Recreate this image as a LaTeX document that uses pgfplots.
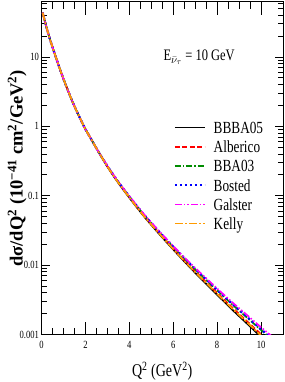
\documentclass[border=0pt]{standalone}
\usepackage{fontspec}
\setmainfont{Liberation Serif}[FakeStretch=0.78]
\newfontfamily\labelfont{Liberation Serif}
\usepackage{pgfplots}
\pgfplotsset{compat=1.18}
\definecolor{cred}{RGB}{255,0,0}
\definecolor{cmag}{RGB}{255,0,255}
\definecolor{cblue}{RGB}{0,0,255}
\definecolor{cgreen}{RGB}{0,140,0}
\definecolor{corange}{RGB}{255,155,0}
\pgfplotsset{
  sBBBA/.style={color=black, line width=1.7pt},
  sAlb/.style={color=cred, line width=1.7pt, dash pattern=on 5pt off 2.5pt},
  sBBA/.style={color=cgreen, line width=1.7pt, dash pattern=on 6pt off 2pt on 1.5pt off 2pt},
  sBos/.style={color=cblue, line width=2.2pt, dash pattern=on 2pt off 3pt},
  sGal/.style={color=cmag, line width=1.7pt, dash pattern=on 7pt off 2pt on 1.5pt off 2pt on 1.5pt off 2pt},
  sKel/.style={color=corange, line width=1.7pt, dash pattern=on 8pt off 2pt on 2pt off 2pt},
}
\begin{document}
\begin{tikzpicture}
\begin{axis}[
  name=ax,
  scale only axis, width=241.5pt, height=332.5pt,
  xmin=0, xmax=11, ymode=log, ymin=0.001, ymax=62,
  xtick={0,2,4,6,8,10}, minor x tick num=3,
  ytick={0.001,0.01,0.1,1,10}, yticklabels={0.001,0.01,0.1,1,10},
  minor ytick={0.002,0.003,0.004,0.005,0.006,0.007,0.008,0.009,0.02,0.03,0.04,0.05,0.06,0.07,0.08,0.09,0.2,0.3,0.4,0.5,0.6,0.7,0.8,0.9,2,3,4,5,6,7,8,9,20,30,40,50,60},
  tick align=inside, tick pos=both,
  xtick style={/pgfplots/major tick length=13pt,/pgfplots/minor tick length=7pt, line width=0.9pt, black},
  ytick style={/pgfplots/major tick length=8pt,/pgfplots/minor tick length=5pt, line width=0.9pt, black},
  axis line style={line width=1pt},
  /pgf/number format/assume math mode=true,
  tick label style={font=\fontsize{11}{12}\selectfont},
  xticklabel style={yshift=-3pt},
  yticklabel style={xshift=1pt},
  xlabel={Q\textsuperscript{2} (GeV\textsuperscript{2})},
  xlabel style={font=\fontsize{18}{20}\selectfont, at={(axis description cs:0.5,0)}, anchor=north, yshift=-24pt},
  ylabel={\textbf{dσ/dQ\textsuperscript{2} (10\textsuperscript{−41} cm\textsuperscript{2}/GeV\textsuperscript{2})}},
  ylabel style={font=\labelfont\fontsize{18.5}{20}\selectfont, at={(axis description cs:-0.101,0.5)}, anchor=center, rotate=0},
  legend style={draw=none, fill=none, at={(axis description cs:0.548,0.641)}, anchor=north west,
    font=\fontsize{17}{18}\selectfont, row sep=7.2pt, inner sep=0pt,
    nodes={inner sep=0pt, text height=12pt, text depth=0pt}},
  legend cell align=left,
  legend image code/.code={\draw[line width=1.7pt,#1] (0pt,0pt) -- (30pt,0pt);},
  every axis legend/.append style={/tikz/column sep=8pt},
]
\addlegendimage{sBBBA}\addlegendentry{BBBA05}
\addlegendimage{sAlb}\addlegendentry{Alberico}
\addlegendimage{sBBA}\addlegendentry{BBA03}
\addlegendimage{sBos}\addlegendentry{Bosted}
\addlegendimage{sGal}\addlegendentry{Galster}
\addlegendimage{sKel}\addlegendentry{Kelly}
\addplot[sBBBA, smooth, forget plot] coordinates {
(0.05,43.65)(0.2,28.84)(0.4,17.38)(0.65,10.0)(0.9,5.888)(1.2,3.311)(1.5,1.950)(1.95,0.977)(2.2,0.708)(2.6,0.427)(3.0,0.263)(3.4,0.170)(3.72,0.123)(4.2,0.0776)(4.7,0.0490)(5.0,0.0380)(5.5,0.0251)(6.0,0.0168)(6.5,0.01135)(7.0,0.00776)(7.6,0.00501)(8.2,0.00324)(8.8,0.00211)(9.4,0.00140)(10.0,0.000923)};
\addplot[sAlb, smooth, forget plot] coordinates {
(0.05,43.65)(0.2,28.84)(0.4,17.38)(0.65,10.0)(0.9,5.888)(1.2,3.311)(1.5,1.950)(1.95,0.977)(2.2,0.708)(2.6,0.427)(3.0,0.2655)(3.4,0.1718)(3.72,0.1247)(4.2,0.0789)(4.7,0.0500)(5.0,0.0389)(5.5,0.0258)(6.0,0.01734)(6.5,0.0118)(7.0,0.00813)(7.6,0.00528)(8.2,0.00344)(8.8,0.00227)(9.4,0.00151)(10.0,0.00101)(10.6,0.000684)};
\addplot[sBBA, smooth, forget plot] coordinates {
(0.05,43.65)(0.2,28.84)(0.4,17.38)(0.65,10.0)(0.9,5.888)(1.2,3.311)(1.5,1.950)(1.95,0.977)(2.2,0.708)(2.6,0.427)(3.0,0.2685)(3.4,0.1746)(3.72,0.1271)(4.2,0.0809)(4.7,0.0515)(5.0,0.0403)(5.5,0.0269)(6.0,0.01824)(6.5,0.0125)(7.0,0.00869)(7.6,0.00573)(8.2,0.00378)(8.8,0.00252)(9.4,0.00171)(10.0,0.00116)(10.6,0.000798)};
\addplot[sBos, smooth, forget plot] coordinates {
(0.05,43.65)(0.2,28.84)(0.4,17.38)(0.65,10.0)(0.9,5.888)(1.2,3.311)(1.5,1.950)(1.95,0.977)(2.2,0.708)(2.6,0.427)(3.0,0.2692)(3.4,0.1750)(3.72,0.1274)(4.2,0.0811)(4.7,0.0518)(5.0,0.0405)(5.5,0.0271)(6.0,0.0184)(6.5,0.01262)(7.0,0.00879)(7.6,0.00581)(8.2,0.00384)(8.8,0.00257)(9.4,0.00175)(10.0,0.00119)(10.6,0.00082)};
\addplot[sGal, smooth, forget plot] coordinates {
(0.05,43.65)(0.2,28.84)(0.4,17.38)(0.65,10.0)(0.9,5.888)(1.2,3.311)(1.5,1.950)(1.95,0.977)(2.2,0.708)(2.6,0.427)(3.0,0.271)(3.4,0.1762)(3.72,0.1285)(4.2,0.0822)(4.7,0.0526)(5.0,0.0412)(5.5,0.02767)(6.0,0.01884)(6.5,0.0130)(7.0,0.00910)(7.6,0.00604)(8.2,0.00402)(8.8,0.00271)(9.4,0.00186)(10.0,0.00127)(10.6,0.000885)};
\addplot[sKel, smooth, forget plot] coordinates {
(0.05,43.65)(0.2,28.84)(0.4,17.38)(0.65,10.0)(0.9,5.888)(1.2,3.311)(1.5,1.950)(1.95,0.977)(2.2,0.708)(2.6,0.427)(3.0,0.2642)(3.4,0.1706)(3.72,0.1239)(4.2,0.0783)(4.7,0.0494)(5.0,0.0385)(5.5,0.02547)(6.0,0.01706)(6.5,0.01156)(7.0,0.00794)(7.6,0.00515)(8.2,0.00333)(8.8,0.00219)(9.4,0.00146)(10.0,0.000966)(10.6,0.000649)};
\node[anchor=base west, font=\fontsize{16}{18}\selectfont] at (rel axis cs:0.4907,0.8235) {E$_{\bar{\nu}_{\tau}}$ = 10 GeV};
\end{axis}
\pgfresetboundingbox
\path ([xshift=-41.5pt,yshift=-47.5pt]ax.south west) rectangle ([xshift=1pt,yshift=2pt]ax.north east);
\end{tikzpicture}
\end{document}
